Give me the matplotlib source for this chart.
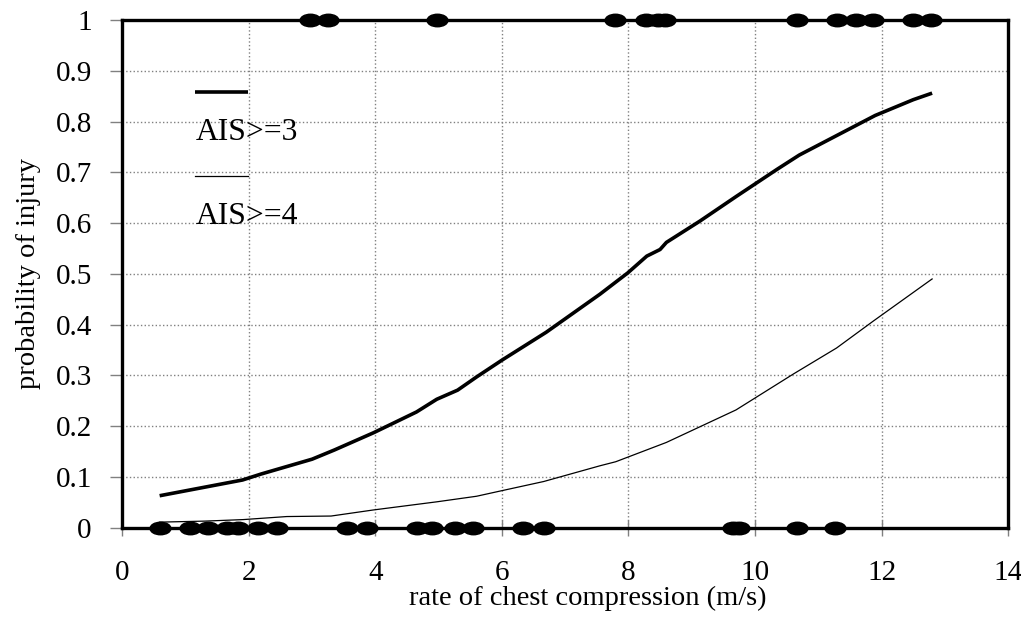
import numpy as np
import matplotlib
matplotlib.use("Agg")
import matplotlib.pyplot as plt
from matplotlib.path import Path
from matplotlib.transforms import Affine2D

plt.rcParams['font.family'] = ['Liberation Serif', 'DejaVu Serif']

# fitted probability curves (rate of chest compression vs probability)
ais3_x = [0.59, 1.9, 2.2, 3.0, 3.35, 3.97, 4.65, 4.97, 5.3, 5.6, 6.0, 6.7, 7.55,
          7.99, 8.29, 8.5, 8.6, 9.13, 9.71, 10.35, 10.7, 11.3, 11.9, 12.5, 12.8]
ais3_y = [0.063, 0.094, 0.106, 0.135, 0.153, 0.187, 0.228, 0.253, 0.271, 0.297,
          0.330, 0.385, 0.460, 0.502, 0.535, 0.548, 0.562, 0.604, 0.653, 0.706,
          0.734, 0.773, 0.812, 0.843, 0.856]

ais4_x = [0.59, 1.3, 1.91, 2.6, 3.3, 3.97, 4.97, 5.6, 6.0, 6.66, 7.55, 7.8, 8.6,
          9.7, 10.61, 11.29, 11.87, 12.8]
ais4_y = [0.011, 0.013, 0.016, 0.022, 0.023, 0.035, 0.051, 0.062, 0.073, 0.091,
          0.122, 0.130, 0.168, 0.232, 0.303, 0.354, 0.407, 0.490]

# observed cases: injured (1) and not injured (0)
injured_x = [2.97, 3.25, 4.98, 7.79, 8.27, 8.46, 8.58, 10.67, 11.30, 11.59,
             11.86, 12.49, 12.78]
uninjured_x = [0.59, 1.07, 1.36, 1.65, 1.83, 2.15, 2.44, 3.55, 3.86, 4.65, 4.89,
               5.26, 5.55, 6.34, 6.66, 9.66, 9.75, 10.67, 11.27]

xticks = np.arange(0, 15, 2)
yticks = np.round(np.arange(0, 1.01, 0.1), 1)
ytick_labels = ['0'] + ['%.1f' % v for v in yticks[1:-1]] + ['1']

fig = plt.figure(figsize=(10.21, 6.24), dpi=100)
ax = fig.add_axes([0.1198, 0.1543, 0.8675, 0.8136])

ax.plot(ais3_x, ais3_y, color='black', lw=2.6, solid_capstyle='butt', zorder=3)
ax.plot(ais4_x, ais4_y, color='black', lw=0.9, zorder=3)

# flattened ellipse marker
ellipse = Path.unit_circle().transformed(Affine2D().scale(1.0, 0.6))
ax.plot(injured_x, np.ones(len(injured_x)), ls='none', marker=ellipse,
        ms=15, color='black', clip_on=False, zorder=5)
ax.plot(uninjured_x, np.zeros(len(uninjured_x)), ls='none', marker=ellipse,
        ms=15, color='black', clip_on=False, zorder=5)

ax.set_xlim(0, 14)
ax.set_ylim(0, 1)
ax.set_xticks(xticks)
ax.set_yticks(yticks)
ax.set_yticklabels(ytick_labels)
ax.grid(True, color='#808080', ls=':', lw=1.0)
ax.set_axisbelow(True)

for s in ax.spines.values():
    s.set_linewidth(2.4)
    s.set_color('black')
    s.set_zorder(4)

ax.tick_params(axis='y', direction='out', length=9, width=1, color='#808080',
               labelsize=21, pad=13)
ax.tick_params(axis='x', direction='inout', length=12, width=1, color='#808080',
               labelsize=21, pad=17)

ax.set_xlabel('rate of chest compression (m/s)', fontsize=20.5, labelpad=0,
              x=0.525)
ax.set_ylabel('probability of injury', fontsize=20.5, labelpad=10)

# legend drawn with the label under each line sample
ax.plot([0.082, 0.142], [0.858, 0.858], transform=ax.transAxes, color='black',
        lw=2.6, solid_capstyle='butt', zorder=3)
ax.text(0.083, 0.763, 'AIS>=3', transform=ax.transAxes, fontsize=22.8,
        va='baseline', ha='left')
ax.plot([0.082, 0.142], [0.693, 0.693], transform=ax.transAxes, color='black',
        lw=0.9, zorder=3)
ax.text(0.083, 0.598, 'AIS>=4', transform=ax.transAxes, fontsize=22.8,
        va='baseline', ha='left')

fig.savefig('out.png', dpi=100)
